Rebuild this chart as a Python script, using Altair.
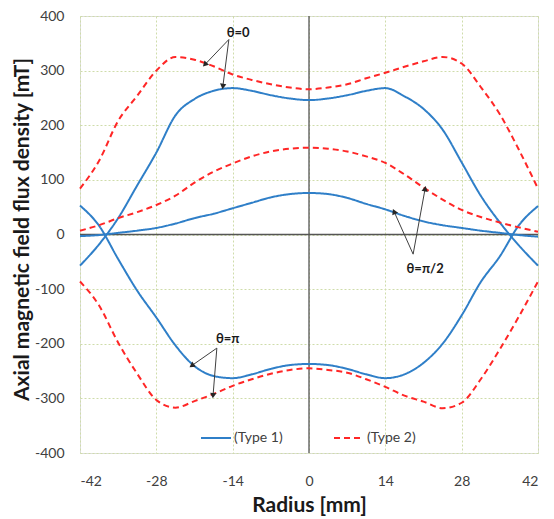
import math
import altair as alt
import pandas as pd

# ---------------- data ----------------
radius = [-42, -38.5, -35, -31.5, -28, -24.5, -21, -17.5, -14, -10.5, -7, -3.5, 0,
          3.5, 7, 10.5, 14, 17.5, 21, 24.5, 28, 31.5, 35, 38.5, 42]

type1_theta0 = [-57, -18, 30, 90, 150, 218, 248, 263, 268, 263, 255, 249, 246,
                249, 255, 263, 268, 253, 230, 192, 132, 71, 22, -20, -57]
type1_theta_half_pi = [-3, -1, 3, 7, 12, 20, 30, 38, 48, 58, 68, 74, 76,
                       74, 67, 56, 46, 34, 24, 17, 12, 7, 3, -1, -4]
type1_theta_pi = [53, 16, -45, -103, -152, -203, -241, -259, -263, -256, -246, -239, -237,
                  -239, -246, -256, -263, -256, -235, -200, -148, -87, -40, 17, 52]

type2_theta0 = [84, 135, 208, 254, 300, 325, 320, 308, 293, 283, 275, 269, 266,
                269, 275, 286, 296, 307, 317, 325, 313, 270, 220, 155, 84]
type2_theta_half_pi = [7, 17, 30, 41, 54, 71, 95, 115, 130, 143, 152, 157, 159,
                       157, 152, 143, 131, 110, 86, 64, 45, 32, 22, 13, 5]
type2_theta_pi = [-86, -130, -198, -255, -303, -317, -305, -292, -277, -265, -255, -248, -245,
                  -248, -253, -265, -279, -295, -306, -318, -308, -265, -210, -150, -86]

types = ["(Type 1)", "(Type 2)"]
x_ticks = [-42, -28, -14, 0, 14, 28, 42]
y_ticks = [-400, -300, -200, -100, 0, 100, 200, 300, 400]

# annotations: label position, arrow start, arrow ends
ann_labels = ["θ=0", "θ=π/2", "θ=π"]
ann_label_x = [-13.0, 21.3, -14.9]
ann_label_y = [368, -64, -191]
arrow_x = [-14.7, -14.7, 19.1, 19.1, -16.9, -16.9]
arrow_y = [357, 357, -36, -36, -208, -208]
arrow_x2 = [-19.1, -15.8, 15.6, 21.3, -21.5, -17.6]
arrow_y2 = [311, 271, 42, 84, -240, -295]

# ---------------- build tables ----------------
W, H = 458, 437
XD = [-42, 42]
YD = [-400, 400]

rows = []
for name, typ, vals in [
    ("t1_0", types[0], type1_theta0),
    ("t1_h", types[0], type1_theta_half_pi),
    ("t1_p", types[0], type1_theta_pi),
    ("t2_0", types[1], type2_theta0),
    ("t2_h", types[1], type2_theta_half_pi),
    ("t2_p", types[1], type2_theta_pi),
]:
    for x, y in zip(radius, vals):
        rows.append({"r": x, "b": y, "curve": name, "type": typ})
df = pd.DataFrame(rows)

sx = W / (XD[1] - XD[0])
sy = H / (YD[1] - YD[0])
angles = []
for x1, y1, x2, y2 in zip(arrow_x, arrow_y, arrow_x2, arrow_y2):
    dx = (x2 - x1) * sx
    dy = -(y2 - y1) * sy
    angles.append(math.degrees(math.atan2(dx, -dy)) % 360)
arrows = pd.DataFrame({"x": arrow_x, "y": arrow_y, "x2": arrow_x2, "y2": arrow_y2, "angle": angles})
labels = pd.DataFrame({"x": ann_label_x, "y": ann_label_y, "t": ann_labels})

FONT = "Lato"
xscale = alt.Scale(domain=XD, nice=False, zero=False)
yscale = alt.Scale(domain=YD, nice=False, zero=False)

xaxis = alt.Axis(values=x_ticks, title="Radius [mm]", labelExpr="datum.value",
                 grid=True, gridColor="#cfdcaa", gridDash=[2, 2], gridWidth=1,
                 ticks=False, domain=False, labelPadding=21, labelFontSize=14,
                 labelColor="#404040", labelFont=FONT, titleFont=FONT, titleFontSize=21,
                 titleFontWeight="bold", titleColor="#1a1a1a", titlePadding=6)
yaxis = alt.Axis(values=y_ticks, title="Axial magnetic field flux density [mT]", labelExpr="datum.value",
                 grid=True, gridColor="#cfdcaa", gridDash=[2, 2], gridWidth=1,
                 ticks=False, domain=False, labelPadding=16, labelFontSize=14,
                 labelColor="#404040", labelFont=FONT, titleFont=FONT, titleFontSize=21,
                 titleFontWeight="bold", titleColor="#1a1a1a", titlePadding=2, titleY=213)

legend = alt.Legend(title=None, orient="none", legendX=120, legendY=406, direction="horizontal",
                    symbolType="stroke", symbolSize=900, symbolStrokeWidth=2,
                    labelFont=FONT, labelFontSize=14, labelColor="#404040",
                    labelOffset=2, columnPadding=47)

lines = alt.Chart(df).mark_line(strokeWidth=2, interpolate="monotone").encode(
    x=alt.X("r:Q", scale=xscale, axis=xaxis),
    y=alt.Y("b:Q", scale=yscale, axis=yaxis),
    color=alt.Color("type:N", scale=alt.Scale(domain=types, range=["#2f7fc8", "#ff2626"]), legend=legend),
    strokeDash=alt.StrokeDash("type:N", scale=alt.Scale(domain=types, range=[[1, 0], [6, 4]]), legend=legend),
    detail="curve:N",
)

zero_v = alt.Chart(pd.DataFrame({"x": [0]})).mark_rule(color="#555555", strokeWidth=1.3).encode(
    x=alt.X("x:Q", scale=xscale))
zero_h = alt.Chart(pd.DataFrame({"y": [0]})).mark_rule(color="#555555", strokeWidth=1.3).encode(
    y=alt.Y("y:Q", scale=yscale))

arrow_lines = alt.Chart(arrows).mark_rule(color="#404040", strokeWidth=1).encode(
    x=alt.X("x:Q", scale=xscale), y=alt.Y("y:Q", scale=yscale), x2="x2:Q", y2="y2:Q")
arrow_heads = alt.Chart(arrows).mark_point(shape="triangle-up", filled=True, size=40,
                                           color="#262626", opacity=1).encode(
    x=alt.X("x2:Q", scale=xscale), y=alt.Y("y2:Q", scale=yscale),
    angle=alt.Angle("angle:Q", scale=None))
ann_text = alt.Chart(labels).mark_text(font=FONT, fontSize=13, fontWeight="bold", color="#1a1a1a").encode(
    x=alt.X("x:Q", scale=xscale), y=alt.Y("y:Q", scale=yscale), text="t:N")

chart = alt.layer(zero_v, zero_h, lines, arrow_lines, arrow_heads, ann_text).properties(
    width=W, height=H,
    autosize=alt.AutoSizeParams(type="none"),
    padding={"left": 72, "top": 8, "right": 8, "bottom": 68},
).configure_view(stroke="#a0a0a0", strokeWidth=1.2).configure(background="white")

chart.save("out.html", embed_options={"renderer": "svg", "actions": False})
